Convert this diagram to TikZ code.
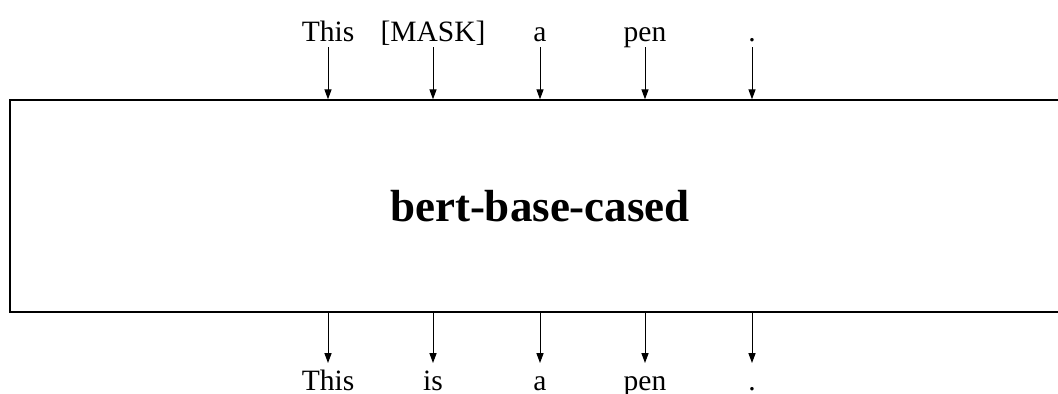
\documentclass[tikz,border=0pt]{standalone}
\usepackage{fontspec}
\setmainfont{Liberation Serif}
\usetikzlibrary{arrows.meta}

\tikzset{
  modelbox/.style={draw, line width=1pt, minimum width=26.5cm, minimum height=5.3cm,
    font=\fontsize{32}{38}\selectfont\bfseries},
  inword/.style={anchor=base, font=\fontsize{21}{25}\selectfont, text depth=0pt, inner sep=3.5pt},
  outword/.style={anchor=base, font=\fontsize{21}{25}\selectfont, text height=14.5pt, inner ysep=4.5pt},
  tokarrow/.style={-{Triangle[length=7pt,width=5pt]}, line width=0.7pt}
}

\begin{document}
\begin{tikzpicture}[x=0.025cm, y=-0.025cm]
                \clip (0,0) rectangle (1058,394);
                \node[modelbox] (model) at (540,206) {bert-base-cased};
                % input tokens
                \node[inword] (in1) at (328,42) {This};
                \node[inword] (in2) at (433,42) {[MASK]};
                \node[inword] (in3) at (540,42) {a};
                \node[inword] (in4) at (645,42) {pen};
                \node[inword] (in5) at (752,42) {.};
                % output tokens
                \node[outword] (out1) at (328,390) {This};
                \node[outword] (out2) at (433,390) {is};
                \node[outword] (out3) at (540,390) {a};
                \node[outword] (out4) at (645,390) {pen};
                \node[outword] (out5) at (752,390) {.};
                \draw[tokarrow] (in1.south) -- (in1.south |- model.north);
                \draw[tokarrow] (in2.south) -- (in2.south |- model.north);
                \draw[tokarrow] (in3.south) -- (in3.south |- model.north);
                \draw[tokarrow] (in4.south) -- (in4.south |- model.north);
                \draw[tokarrow] (in5.south) -- (in5.south |- model.north);
                \draw[tokarrow] (out1.north |- model.south) -- (out1.north);
                \draw[tokarrow] (out2.north |- model.south) -- (out2.north);
                \draw[tokarrow] (out3.north |- model.south) -- (out3.north);
                \draw[tokarrow] (out4.north |- model.south) -- (out4.north);
                \draw[tokarrow] (out5.north |- model.south) -- (out5.north);
            \end{tikzpicture}
\end{document}
